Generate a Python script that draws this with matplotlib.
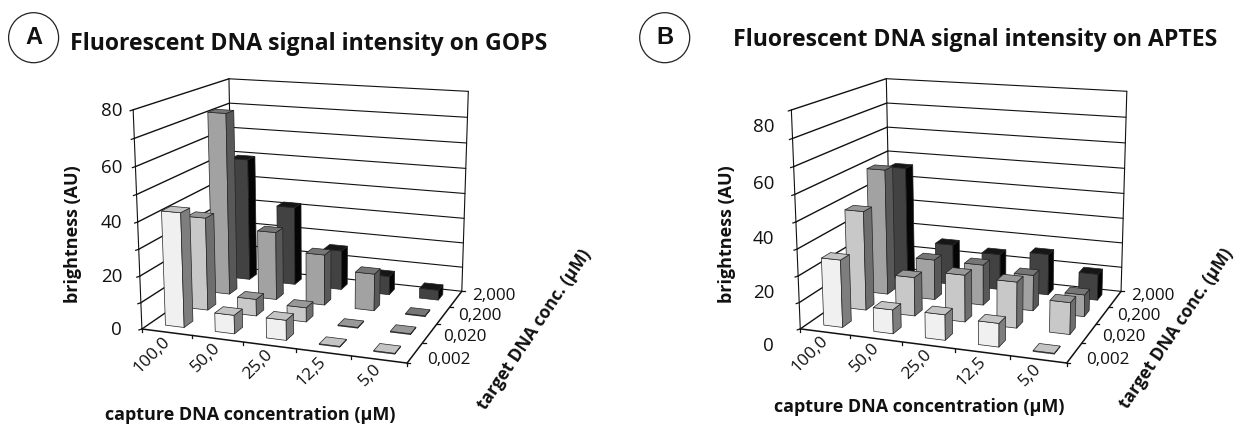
import matplotlib
matplotlib.use('Agg')
import matplotlib.pyplot as plt
from matplotlib.patches import Circle, Polygon
import numpy as np

capture_labels = ['100,0', '50,0', '25,0', '12,5', '5,0']
target_labels = ['0,002', '0,020', '0,200', '2,000']
brightness_ticks = [0, 20, 40, 60, 80]

# one list per target conc., values along capture conc.
gops_002 = [43, 7, 7.5, 0.3, 0.3]
gops_020 = [36, 6.5, 5.5, 0.3, 0.3]
gops_200 = [72, 27, 20, 14.5, 0.3]
gops_2000 = [50, 32, 16, 7.5, 4]

aptes_002 = [25.5, 9, 9.5, 8.7, 0.3]
aptes_020 = [38.5, 15, 18, 17.5, 12]
aptes_200 = [50, 16, 16, 14, 8.5]
aptes_2000 = [46.5, 16.5, 14.5, 16.5, 10.5]

# front, side, top colour per target row
row_colors = [('#f0f0f0', '#7e7e7e', '#c4c4c4'),
              ('#c8c8c8', '#6e6e6e', '#989898'),
              ('#a2a2a2', '#585858', '#767676'),
              ('#424242', '#050505', '#161616')]

fontname = 'Open Sans'
plt.rcParams['font.family'] = fontname


def fit_camera(frame_px):
    # 3d box corners -> pixel positions of the chart frame
    box = [(0, 0, 0), (0, 0, 80), (0, 4, 80), (5, 4, 80), (5, 4, 0), (5, 0, 0), (0, 4, 0)]
    A, b = [], []
    for (X, Y, Z), (u, v) in zip(box, frame_px):
        A.append([X, Y, Z, 1, 0, 0, 0, 0, -u * X, -u * Y, -u * Z])
        A.append([0, 0, 0, 0, X, Y, Z, 1, -v * X, -v * Y, -v * Z])
        b += [u, v]
    p = np.linalg.lstsq(np.array(A, float), np.array(b, float), rcond=None)[0]
    return np.append(p, 1).reshape(3, 4)


def panel(ax, frame_px, rows, zlabel_x, zlabel_shift):
    P = fit_camera(frame_px)

    def pr(x, y, z):
        u, v, w = P @ np.array([x, y, z, 1.0])
        return u / w, v / w

    def line(a, b, lw=0.8, color='#111111', z=1):
        ax.plot(*zip(pr(*a), pr(*b)), color=color, lw=lw, zorder=z, solid_capstyle='round')

    # walls and gridlines
    for z in range(0, 81, 10):
        line((0, 0, z), (0, 4, z), lw=1.0)
        line((0, 4, z), (5, 4, z), lw=0.8)
        u, v = pr(0, 0, z)
        ax.plot([u - 3, u], [v + 1, v], color='#111111', lw=0.9, zorder=1)
    line((0, 0, 0), (0, 0, 80), lw=0.8)
    line((0, 4, 0), (0, 4, 80), lw=0.8)
    line((5, 4, 0), (5, 4, 80), lw=0.8)
    line((0, 0, 0), (5, 0, 0), lw=1.1)
    line((5, 0, 0), (5, 4, 0), lw=1.1)

    # ticks on the floor
    for i in range(6):
        u, v = pr(i, 0, 0)
        ax.plot([u, u], [v, v + 3], color='#111111', lw=0.9, zorder=1)
    for j in range(5):
        u, v = pr(5, j, 0)
        ax.plot([u, u + 3], [v, v], color='#111111', lw=0.9, zorder=1)

    # bars, back row first, left to right
    hw, hd = 0.19, 0.18
    for j in range(3, -1, -1):
        front, side, top = row_colors[j]
        for i, val in enumerate(rows[j]):
            x0, x1 = i + 0.5 - hw, i + 0.5 + hw
            y0, y1 = j + 0.5 - hd, j + 0.5 + hd
            faces = [
                ([(x0, y0, 0), (x1, y0, 0), (x1, y0, val), (x0, y0, val)], front),
                ([(x1, y0, 0), (x1, y1, 0), (x1, y1, val), (x1, y0, val)], side),
                ([(x0, y0, val), (x1, y0, val), (x1, y1, val), (x0, y1, val)], top),
            ]
            for pts, col in faces:
                ax.add_patch(Polygon([pr(*q) for q in pts], closed=True, facecolor=col,
                                     edgecolor='#222222', lw=0.5, zorder=3))

    # tick labels
    for i, lab in enumerate(capture_labels):
        u, v = pr(i + 0.5, 0, 0)
        ax.text(u - 5, v + 1, lab, rotation=45, ha='right', va='top', rotation_mode='anchor',
                fontsize=12.5, color='#111111')
    for j, lab in enumerate(target_labels):
        u, v = pr(5, j + 0.5, 0)
        ax.text(u + 12 + 1.3 * j, v + 7 - 3.3 * j, lab, ha='left', va='center', fontsize=12.3,
                color='#111111')
    for t in brightness_ticks:
        u, v = pr(0, 0, t)
        ax.text(zlabel_x, v + zlabel_shift, str(t), ha='right', va='center', fontsize=13.5,
                color='#111111')


fig = plt.figure(figsize=(12.37, 4.24), dpi=100)
ax = fig.add_axes([0, 0, 1, 1])
ax.set_xlim(0, 1237)
ax.set_ylim(424, 0)
ax.axis('off')

frame_a = [(141.5, 327), (133.6, 110), (228.5, 78), (468.4, 92), (461.7, 289), (407.1, 365), (233, 269)]
frame_b = [(799.8, 327), (792, 110), (885.6, 78), (1127, 92), (1121, 289), (1066.6, 365), (890.8, 269)]

panel(ax, frame_a, [gops_002, gops_020, gops_200, gops_2000], 122, 1)
panel(ax, frame_b, [aptes_002, aptes_020, aptes_200, aptes_2000], 774, 17)

# titles and panel letters
title_kw = dict(fontsize=16.6, fontweight='bold', va='center', ha='left', color='#111111')
ax.text(70, 44, 'Fluorescent DNA signal intensity on GOPS', **title_kw)
ax.text(733, 40, 'Fluorescent DNA signal intensity on APTES', **title_kw)
for cx, letter in [(33.6, 'A'), (664.7, 'B')]:
    ax.add_patch(Circle((cx, 37.7), 25, facecolor='white', edgecolor='#222222', lw=0.9))
    ax.text(cx + 0.5, 37, letter, fontsize=17, fontweight='bold', ha='center', va='center',
            family='Liberation Sans', color='#111111')

# axis titles
label_kw = dict(fontsize=13, fontweight='bold', color='#111111')
ax.text(250, 415, 'capture DNA concentration (\u03bcM)', ha='center', va='center', **label_kw)
ax.text(919, 407, 'capture DNA concentration (\u03bcM)', ha='center', va='center', **label_kw)
ax.text(73, 234, 'brightness (AU)', rotation=90, ha='center', va='center', **label_kw)
ax.text(727, 234, 'brightness (AU)', rotation=90, ha='center', va='center', **label_kw)
target_kw = dict(fontsize=12.4, fontweight='bold', color='#111111', rotation=56, ha='center',
                 va='center', rotation_mode='anchor')
ax.text(534, 330, 'target DNA conc. (\u03bcM)', **target_kw)
ax.text(1176, 329, 'target DNA conc. (\u03bcM)', **target_kw)

fig.savefig('out.png', dpi=100)
